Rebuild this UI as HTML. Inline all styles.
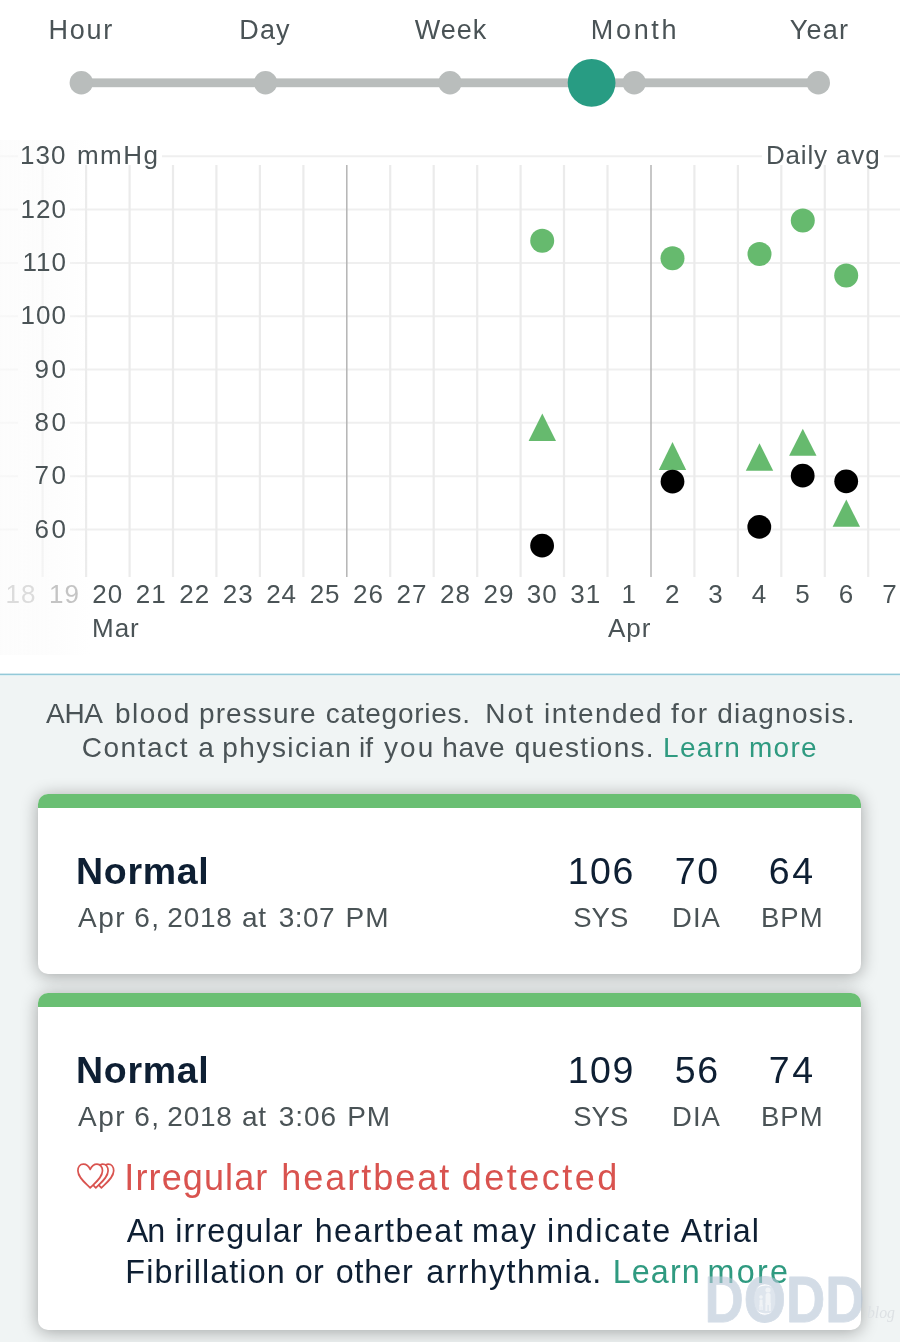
<!DOCTYPE html>
<html>
<head>
<meta charset="utf-8">
<style>
html,body{margin:0;padding:0;}
body{width:900px;height:1342px;position:relative;overflow:hidden;background:#fff;font-family:"Liberation Sans",sans-serif;color:#4a5356;}
.t{position:absolute;white-space:nowrap;line-height:1;}
.c{transform:translateX(-50%);}
.r{transform:translateX(-100%);}
.tab{font-size:27px;top:17px;letter-spacing:1.2px;}
.yl{font-size:26px;letter-spacing:1px;}
.xl{font-size:26px;letter-spacing:1px;top:581px;}
.bottom{position:absolute;left:0;top:676px;width:900px;height:666px;background:#f0f4f4;}
.card{position:absolute;left:38px;width:823px;background:#fff;border-radius:10px;box-shadow:0 2px 17px rgba(0,0,0,0.33);overflow:hidden;}
.card .bar{position:absolute;left:0;top:0;width:100%;height:14px;background:#6abf73;}
.navy{color:#0e1f33;}
.title{font-size:37.5px;font-weight:bold;letter-spacing:0.7px;}
.date{font-size:28px;letter-spacing:1.06px;}
.num{font-size:37.5px;letter-spacing:1.5px;}
.lab{font-size:27.5px;}
.aha{font-size:28px;letter-spacing:1px;}
.irr{font-size:36px;color:#d9534f;letter-spacing:1.8px;}
.body{font-size:32.3px;letter-spacing:1.2px;}
</style>
</head>
<body>
<div id="root" style="position:absolute;left:0;top:0;width:900px;height:1342px;will-change:transform;">
<!-- tabs -->
<div class="t c tab" id="tab1" style="left:81.3px;letter-spacing:1.8px">Hour</div>
<div class="t c tab" id="tab2" style="left:265px">Day</div>
<div class="t c tab" id="tab3" style="left:451px;letter-spacing:1px">Week</div>
<div class="t c tab" id="tab4" style="left:635px;letter-spacing:2.7px">Month</div>
<div class="t c tab" id="tab5" style="left:819.5px">Year</div>

<svg id="chart" width="900" height="680" style="position:absolute;left:0;top:0">
  <!-- slider -->
  <rect x="82" y="78.4" width="736" height="8.8" fill="#b9bdbc"/>
  <g fill="#b9bdbc">
    <circle cx="81.3" cy="82.8" r="11.7"/><circle cx="265.5" cy="82.8" r="11.7"/><circle cx="450" cy="82.8" r="11.7"/><circle cx="634.2" cy="82.8" r="11.7"/><circle cx="818.3" cy="82.8" r="11.7"/>
  </g>
  <circle cx="591.6" cy="82.8" r="23.9" fill="#289c83"/>
  <!-- grid placeholder -->
  <g stroke="#efefef" stroke-width="2" fill="none"><path d="M0 156.2H18M162 156.2H762M884 156.2H900"/><path d="M0 209.5H18M70 209.5H900"/><path d="M0 262.9H18M70 262.9H900"/><path d="M0 316.2H18M70 316.2H900"/><path d="M0 369.5H18M70 369.5H900"/><path d="M0 422.8H18M70 422.8H900"/><path d="M0 476.2H18M70 476.2H900"/><path d="M0 529.5H18M70 529.5H900"/></g>
  <g stroke="#ebebeb" stroke-width="2.2"><line x1="42.6" y1="165" x2="42.6" y2="577"/><line x1="86.1" y1="165" x2="86.1" y2="577"/><line x1="129.6" y1="165" x2="129.6" y2="577"/><line x1="173.0" y1="165" x2="173.0" y2="577"/><line x1="216.4" y1="165" x2="216.4" y2="577"/><line x1="259.9" y1="165" x2="259.9" y2="577"/><line x1="303.4" y1="165" x2="303.4" y2="577"/><line x1="390.2" y1="165" x2="390.2" y2="577"/><line x1="433.7" y1="165" x2="433.7" y2="577"/><line x1="477.2" y1="165" x2="477.2" y2="577"/><line x1="520.6" y1="165" x2="520.6" y2="577"/><line x1="564.0" y1="165" x2="564.0" y2="577"/><line x1="607.5" y1="165" x2="607.5" y2="577"/><line x1="694.4" y1="165" x2="694.4" y2="577"/><line x1="737.9" y1="165" x2="737.9" y2="577"/><line x1="781.3" y1="165" x2="781.3" y2="577"/><line x1="824.8" y1="165" x2="824.8" y2="577"/><line x1="868.2" y1="165" x2="868.2" y2="577"/></g>
  <g stroke="#b4b4b4" stroke-width="1.5"><line x1="346.8" y1="165" x2="346.8" y2="577"/><line x1="651.0" y1="165" x2="651.0" y2="577"/></g>
  <g fill="#66ba6e"><circle cx="542.2" cy="240.8" r="12"/><circle cx="672.5" cy="258.2" r="12"/><circle cx="759.5" cy="253.9" r="12"/><circle cx="802.8" cy="220.4" r="12"/><circle cx="846.2" cy="275.6" r="12"/><path d="M542.3 413.4L556.0 440.9L528.6 440.9Z"/><path d="M672.5 442.1L686.2 469.9L658.8 469.9Z"/><path d="M759.5 443.2L773.2 470.7L745.8 470.7Z"/><path d="M802.8 428.8L816.5 455.7L789.1 455.7Z"/><path d="M846.3 499.5L860.0 526.7L832.6 526.7Z"/></g>
  <g fill="#000"><circle cx="542.1" cy="545.7" r="11.9"/><circle cx="672.5" cy="481.6" r="11.9"/><circle cx="759.3" cy="526.9" r="11.9"/><circle cx="802.7" cy="475.7" r="11.9"/><circle cx="846.2" cy="481.3" r="11.9"/></g>
</svg>


<div style="position:absolute;left:0;top:140px;width:95px;height:515px;background:linear-gradient(to right,rgba(251,251,251,0.7) 0,rgba(251,251,251,0.55) 50px,rgba(252,252,252,0) 90px)"></div>
<!-- y labels -->
<div class="t yl" id="y130" style="left:20px;top:142px">130<span style="margin-left:10.5px;letter-spacing:1.5px">mmHg</span></div>
<div class="t r yl" id="y120" style="left:67px;top:196px">120</div>
<div class="t r yl" id="y110" style="left:67px;top:249px">110</div>
<div class="t r yl" id="y100" style="left:67px;top:302px">100</div>
<div class="t r yl" id="y90" style="left:68.5px;letter-spacing:2.5px;top:356px">90</div>
<div class="t r yl" id="y80" style="left:68.5px;letter-spacing:2.5px;top:409px">80</div>
<div class="t r yl" id="y70" style="left:68.5px;letter-spacing:2.5px;top:462px">70</div>
<div class="t r yl" id="y60" style="left:68.5px;letter-spacing:2.5px;top:516px">60</div>
<div class="t r yl" id="davg" style="left:880.5px;top:142px;letter-spacing:0.85px">Daily avg</div>
<!-- x labels -->
<div class="t c xl" id="x0" style="left:20.9px;color:#dcdcdc">18</div>
<div class="t c xl" id="x1" style="left:64.4px;color:#c4c4c4">19</div>
<div class="t c xl" id="x2" style="left:107.8px">20</div>
<div class="t c xl" id="x3" style="left:151.3px">21</div>
<div class="t c xl" id="x4" style="left:194.7px">22</div>
<div class="t c xl" id="x5" style="left:238.2px">23</div>
<div class="t c xl" id="x6" style="left:281.6px">24</div>
<div class="t c xl" id="x7" style="left:325.1px">25</div>
<div class="t c xl" id="x8" style="left:368.5px">26</div>
<div class="t c xl" id="x9" style="left:412.0px">27</div>
<div class="t c xl" id="x10" style="left:455.4px">28</div>
<div class="t c xl" id="x11" style="left:498.9px">29</div>
<div class="t c xl" id="x12" style="left:542.3px">30</div>
<div class="t c xl" id="x13" style="left:585.8px">31</div>
<div class="t c xl" id="x14" style="left:629.2px">1</div>
<div class="t c xl" id="x15" style="left:672.7px">2</div>
<div class="t c xl" id="x16" style="left:716.1px">3</div>
<div class="t c xl" id="x17" style="left:759.6px">4</div>
<div class="t c xl" id="x18" style="left:803.0px">5</div>
<div class="t c xl" id="x19" style="left:846.5px">6</div>
<div class="t c xl" id="x20" style="left:889.9px">7</div>
<div class="t xl" id="mar" style="left:92px;top:615px">Mar</div>
<div class="t xl" id="apr" style="left:608px;top:615px">Apr</div>
<div class="bottom"></div>
<svg width="900" height="4" style="position:absolute;left:0;top:672px"><rect x="0" y="1.6" width="900" height="1.7" fill="#93c9d8"/></svg>

<div class="card" id="card1" style="top:794px;height:180px"><div class="bar"></div></div>
<div class="card" id="card2" style="top:993px;height:337px"><div class="bar"></div></div>

<div class="t navy title" id="n1" style="left:76px;top:853px">Normal</div>
<div class="t c navy num" id="s1" style="left:601.3px;top:852.6px">106</div>
<div class="t c navy num" id="di1" style="left:697.2px;top:852.6px">70</div>
<div class="t c navy num" id="b1" style="left:792.2px;top:852.6px;letter-spacing:2.5px">64</div>
<div class="t c lab" id="ls1" style="left:600.8px;top:903.5px">SYS</div>
<div class="t c lab" id="ld1" style="left:696.5px;top:903.5px;letter-spacing:1px">DIA</div>
<div class="t c lab" id="lb1" style="left:792.3px;top:903.5px;letter-spacing:1px">BPM</div>

<div class="t navy title" id="n2" style="left:76px;top:1052.0px">Normal</div>
<div class="t c navy num" id="s2" style="left:601.3px;top:1051.6px">109</div>
<div class="t c navy num" id="di2" style="left:697.2px;top:1051.6px">56</div>
<div class="t c navy num" id="b2" style="left:792.2px;top:1051.6px;letter-spacing:2.5px">74</div>
<div class="t c lab" id="ls2" style="left:600.8px;top:1102.5px">SYS</div>
<div class="t c lab" id="ld2" style="left:696.5px;top:1102.5px;letter-spacing:1px">DIA</div>
<div class="t c lab" id="lb2" style="left:792.3px;top:1102.5px;letter-spacing:1px">BPM</div>

<svg id="heart" width="60" height="40" viewBox="70 1155 60 40" style="position:absolute;left:70px;top:1155px" fill="none" stroke="#d9534f" stroke-width="1.7" stroke-linejoin="round" stroke-linecap="round">
  <path d="M4.6 0.5 C5.4 0.15 6.1 0 6.8 0 C10.2 0 12.3 3 12.3 6.6 C12.3 13 5.2 18.3 0 23.6 L-2.6 21" transform="translate(101.4 1164.2)"/>
  <path d="M4.6 0.5 C5.4 0.15 6.1 0 6.8 0 C10.2 0 12.3 3 12.3 6.6 C12.3 13 5.2 18.3 0 23.6 L-2.6 21" transform="translate(95.8 1164.2)"/>
  <path d="M0 5.2 C-1.6 1.6 -4.4 0 -6.8 0 C-10.2 0 -12.3 3 -12.3 6.6 C-12.3 13 -5.2 18.3 0 23.6 C5.2 18.3 12.3 13 12.3 6.6 C12.3 3 10.2 0 6.8 0 C4.4 0 1.6 1.6 0 5.2 Z" fill="#fff" transform="translate(90.2 1164.2)"/>
</svg>
<div id="aha1" class="aha">
<span class="t" style="left:46.00px;top:699.5px;letter-spacing:-0.30px">AHA</span>
<span class="t" style="left:115.00px;top:699.5px;letter-spacing:1.44px">blood</span>
<span class="t" style="left:199.00px;top:699.5px;letter-spacing:1.09px">pressure</span>
<span class="t" style="left:325.70px;top:699.5px;letter-spacing:0.74px">categories.</span>
<span class="t" style="left:485.30px;top:699.5px;letter-spacing:2.10px">Not</span>
<span class="t" style="left:544.00px;top:699.5px;letter-spacing:1.45px">intended</span>
<span class="t" style="left:671.00px;top:699.5px;letter-spacing:1.67px">for</span>
<span class="t" style="left:717.30px;top:699.5px;letter-spacing:1.23px">diagnosis.</span>
</div>
<div id="aha2" class="aha">
<span class="t" style="left:81.70px;top:734px;letter-spacing:1.55px">Contact</span>
<span class="t" style="left:198.30px;top:734px;letter-spacing:0.00px">a</span>
<span class="t" style="left:222.30px;top:734px;letter-spacing:1.48px">physician</span>
<span class="t" style="left:359.00px;top:734px;letter-spacing:0.08px">if</span>
<span class="t" style="left:384.00px;top:734px;letter-spacing:2.06px">you</span>
<span class="t" style="left:442.30px;top:734px;letter-spacing:0.52px">have</span>
<span class="t" style="left:514.70px;top:734px;letter-spacing:1.24px">questions.</span>
<span class="t" style="left:663.00px;top:734px;letter-spacing:1.31px;color:#2f9a80">Learn</span>
<span class="t" style="left:749.00px;top:734px;letter-spacing:1.26px;color:#2f9a80">more</span>
</div>
<div id="d1" class="date">
<span class="t" style="left:78.10px;top:904px;letter-spacing:1.48px">Apr</span>
<span class="t" style="left:134.30px;top:904px;letter-spacing:1.43px">6,</span>
<span class="t" style="left:167.30px;top:904px;letter-spacing:0.76px">2018</span>
<span class="t" style="left:242.10px;top:904px;letter-spacing:0.53px">at</span>
<span class="t" style="left:278.80px;top:904px;letter-spacing:0.43px">3:07</span>
<span class="t" style="left:345.60px;top:904px;letter-spacing:0.92px">PM</span>
</div>
<div id="d2" class="date">
<span class="t" style="left:78.10px;top:1103px;letter-spacing:1.48px">Apr</span>
<span class="t" style="left:134.30px;top:1103px;letter-spacing:1.43px">6,</span>
<span class="t" style="left:167.30px;top:1103px;letter-spacing:0.76px">2018</span>
<span class="t" style="left:242.10px;top:1103px;letter-spacing:0.53px">at</span>
<span class="t" style="left:278.80px;top:1103px;letter-spacing:0.93px">3:06</span>
<span class="t" style="left:347.20px;top:1103px;letter-spacing:0.92px">PM</span>
</div>
<div id="irr" class="irr">
<span class="t" style="left:124.30px;top:1159.5px;letter-spacing:1.12px">Irregular</span>
<span class="t" style="left:281.30px;top:1159.5px;letter-spacing:1.99px">heartbeat</span>
<span class="t" style="left:461.70px;top:1159.5px;letter-spacing:2.50px">detected</span>
</div>
<div id="body1" class="navy body">
<span class="t" style="left:126.70px;top:1215px;letter-spacing:-0.94px">An</span>
<span class="t" style="left:175.30px;top:1215px;letter-spacing:1.09px">irregular</span>
<span class="t" style="left:314.70px;top:1215px;letter-spacing:1.44px">heartbeat</span>
<span class="t" style="left:472.00px;top:1215px;letter-spacing:1.42px">may</span>
<span class="t" style="left:547.00px;top:1215px;letter-spacing:1.71px">indicate</span>
<span class="t" style="left:680.70px;top:1215px;letter-spacing:0.92px">Atrial</span>
</div>
<div id="body2" class="navy body">
<span class="t" style="left:125.30px;top:1255.8px;letter-spacing:1.11px">Fibrillation</span>
<span class="t" style="left:294.70px;top:1255.8px;letter-spacing:0.34px">or</span>
<span class="t" style="left:335.70px;top:1255.8px;letter-spacing:0.86px">other</span>
<span class="t" style="left:426.30px;top:1255.8px;letter-spacing:1.34px">arrhythmia.</span>
<span class="t" style="left:612.70px;top:1255.8px;letter-spacing:1.11px;color:#2f9a80">Learn</span>
<span class="t" style="left:707.50px;top:1255.8px;letter-spacing:2.29px;color:#2f9a80">more</span>
</div>
<svg id="wm" width="210" height="80" viewBox="690 1262 210 80" style="position:absolute;left:690px;top:1262px">
  <g opacity="0.6" fill="#b7c6d7" stroke="#b7c6d7" font-family="Liberation Sans, sans-serif" font-weight="bold">
    <text x="704.5" y="1321.8" font-size="64" textLength="160" lengthAdjust="spacingAndGlyphs" stroke-width="0.8" stroke-linejoin="round">DODD</text>
    <circle cx="765.5" cy="1299.5" r="14" stroke="none" opacity="0.75"/>
  </g>
  <g fill="#fff" opacity="0.55">
    <circle cx="768" cy="1290" r="2.6"/><rect x="765.6" y="1293" width="5" height="12" rx="2"/><rect x="765.4" y="1303" width="2" height="8"/><rect x="768.8" y="1303" width="2" height="8"/>
    <circle cx="761" cy="1297" r="1.8"/><rect x="759.6" y="1299.4" width="3" height="7" rx="1.2"/><rect x="759.4" y="1305" width="1.3" height="5"/><rect x="761.4" y="1305" width="1.3" height="5"/>
  </g>
  <text x="867" y="1318" font-size="16" font-style="italic" fill="#dde1e4" font-family="Liberation Serif, serif" textLength="28" lengthAdjust="spacingAndGlyphs">blog</text>
</svg>
</div>
</body>
</html>
